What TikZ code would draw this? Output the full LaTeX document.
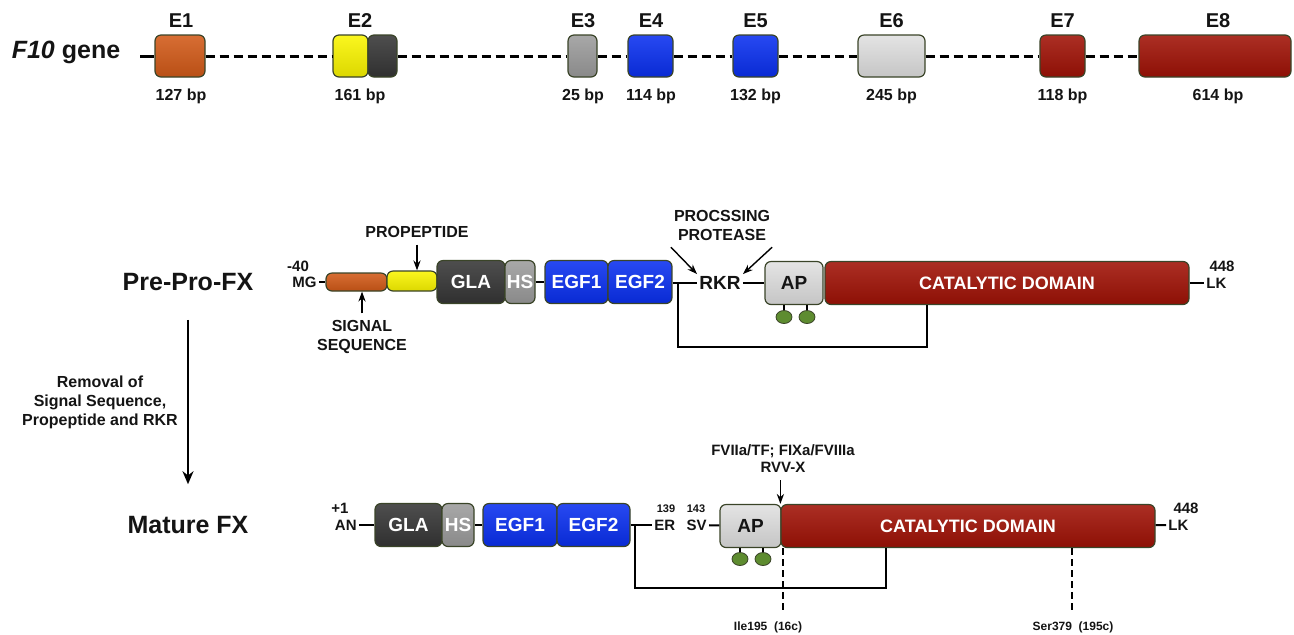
\documentclass[tikz,border=0pt]{standalone}
\usepackage{fontspec}
\setmainfont{Liberation Sans}
\usepackage{tikz}
\usetikzlibrary{arrows.meta, calc, positioning, shapes.geometric}
\definecolor{ExonOrange}{HTML}{D25A18}
\definecolor{ExonYellow}{HTML}{FAF500}
\definecolor{GlaDark}{HTML}{363636}
\definecolor{HSGray}{HTML}{9C9C9C}
\definecolor{EGFBlue}{HTML}{0A30F0}
\definecolor{APGray}{HTML}{E0E0E0}
\definecolor{CatRed}{HTML}{A01206}
\definecolor{DotGreen}{HTML}{5E8C30}
\definecolor{BoxEdge}{HTML}{3A4428}
\definecolor{TextBlack}{HTML}{141414}

\begin{document}
\begin{tikzpicture}[x=0.5pt, y=-0.5pt, >={Stealth[length=5pt,width=3.6pt]},
    every node/.style={font=\bfseries\fontsize{8}{9.5}\selectfont, text=TextBlack},
    dom/.style={draw=BoxEdge, top color=#1!88!white, middle color=#1, bottom color=#1!88!black,
        line width=0.6pt, rounded corners=3pt,
        inner sep=0pt, minimum height=21.5pt, text=white,
        font=\bfseries\fontsize{9.5}{11}\selectfont},
    exon/.style={dom=#1, minimum height=21pt},
    headlbl/.style={font=\bfseries\fontsize{12.5}{14}\selectfont},
    endlbl/.style={font=\bfseries\fontsize{7.5}{8}\selectfont, inner sep=1pt},
    numlbl/.style={font=\bfseries\fontsize{5.5}{6}\selectfont, inner sep=1pt},
    sitelbl/.style={font=\bfseries\fontsize{6}{7}\selectfont},
    gdot/.style={ellipse, draw=BoxEdge, fill=DotGreen, minimum width=8pt, minimum height=6.5pt, inner sep=0pt},
    link/.style={line width=1pt},
    intron/.style={line width=1.5pt, dash pattern=on 4.5pt off 2.5pt},
    cleft/.style={line width=1pt, dash pattern=on 3.5pt off 2pt}]

    \useasboundingbox (0,0) rectangle (1294,634);

    % F10 gene
    \node[headlbl] (gene) at (66,52) {\textit{F10} gene};
    \node[exon=ExonOrange, minimum width=25pt] (e1) at (180,56) {};
    \node[exon=ExonYellow, minimum width=17.5pt] (e2a) at (350.5,56) {};
    \node[exon=GlaDark, minimum width=14.5pt] (e2b) at (382.5,56) {};
    \node[exon=HSGray, minimum width=14.5pt] (e3) at (582.5,56) {};
    \node[exon=EGFBlue, minimum width=22.5pt] (e4) at (650.5,56) {};
    \node[exon=EGFBlue, minimum width=22.5pt] (e5) at (755.5,56) {};
    \node[exon=APGray, minimum width=33.5pt] (e6) at (891.5,56) {};
    \node[exon=CatRed, minimum width=22.5pt] (e7) at (1062.5,56) {};
    \node[exon=CatRed, minimum width=76pt] (e8) at (1215,56) {};
    \coordinate (gstart) at (140,56);
    \draw[intron, solid] (gstart) -- (e1);
    \foreach \a/\b in {e1/e2a, e2b/e3, e3/e4, e4/e5, e5/e6, e6/e7, e7/e8}
        \draw[intron] (\a) -- (\b);
    \foreach \x/\t/\bp in {181/E1/127, 360/E2/161, 583/E3/25, 651/E4/114,
                           755.5/E5/132, 891.5/E6/245, 1062.5/E7/118, 1218/E8/614} {
        \node[font=\bfseries\fontsize{10}{11}\selectfont] (lbl\t) at (\x,21) {\t};
        \node (bp\t) at (\x,96) {\bp~bp};
    }

    % Pre-Pro-FX
    \node[headlbl] (prepro) at (188,282) {Pre-Pro-FX};
    \node[endlbl, anchor=east] (mg) at (319,282) {MG};
    \node[endlbl] (n40) at (298,266) {-40};
    \node[dom=ExonOrange, minimum width=30.5pt, minimum height=9pt] (sig) at (356.5,282) {};
    \node[dom=ExonYellow, minimum width=25pt, minimum height=10pt] (pro) at (412,281) {};
    \node[dom=GlaDark, minimum width=34pt] (gla) at (471,282) {GLA};
    \node[dom=HSGray, minimum width=15pt] (hs) at (520,282) {HS};
    \node[dom=EGFBlue, minimum width=31.5pt] (egfa) at (576.5,282) {EGF1};
    \node[dom=EGFBlue, minimum width=32pt] (egfb) at (640,282) {EGF2};
    \node[font=\bfseries\fontsize{9.5}{11}\selectfont, inner sep=1pt] (rkr) at (720,283) {RKR};
    \node[dom=APGray, text=TextBlack, minimum width=29pt] (ap) at (794,283) {AP};
    \node[dom=CatRed, minimum width=182pt, font=\bfseries\fontsize{9}{11}\selectfont] (cat) at (1007,283) {CATALYTIC DOMAIN};
    \node[endlbl, anchor=west] (lk) at (1204,283) {LK};
    \node[endlbl] (n448) at (1222,266) {448};
    \draw[link] (mg) -- (sig);
    \draw[link] (hs) -- (egfa);
    \draw[link] (egfb.east |- rkr) -- (rkr);
    \draw[link] (rkr) -- (ap);
    \draw[link] (cat) -- (lk);

    % Gla sites on AP
    \node[gdot] (d1) at (784,317) {};
    \node[gdot] (d2) at (807,317) {};
    \draw[link] (d1) -- (d1 |- ap.south);
    \draw[link] (d2) -- (d2 |- ap.south);

    % Disulfide bond
    \coordinate (bl) at (678,283);
    \coordinate (br) at (927,0);
    \draw[link] (bl) -- ++(0,64) -| (br |- cat.south);

    % Labels with arrows
    \node (proplbl) at (417,232) {PROPEPTIDE};
    \draw[->, line width=0.7pt] (proplbl.south) -- (proplbl.south |- pro.north);
    \node[align=center] (siglbl) at (362,337) {SIGNAL\\SEQUENCE};
    \draw[->, line width=0.7pt] (siglbl.north) -- (siglbl.north |- sig.south);
    \node[align=center] (protease) at (722,225) {PROCSSING\\PROTEASE};
    \draw[->, line width=0.7pt] ($(protease.south west)+(4,0)$) -- (rkr.north west);
    \draw[->, line width=0.7pt] ($(protease.south east)+(-5,0)$) -- (rkr.north east);

    % Processing step
    \node[headlbl] (mature) at (188,525) {Mature FX};
    \draw[-{Stealth[length=6.5pt,width=5.5pt]}, line width=1.1pt, shorten <=11pt, shorten >=12.5pt] (prepro) -- (mature);
    \node[align=center] (removal) at (100,402) {Removal of\\Signal Sequence,\\Propeptide and RKR};

    % Mature FX
    \node[endlbl, anchor=east] (an) at (359,525) {AN};
    \node[endlbl] (n1) at (340,508) {+1};
    \node[dom=GlaDark, minimum width=33.5pt] (glab) at (408.5,525) {GLA};
    \node[dom=HSGray, minimum width=16pt] (hsb) at (458,525) {HS};
    \node[dom=EGFBlue, minimum width=37pt] (egfc) at (520,525) {EGF1};
    \node[dom=EGFBlue, minimum width=36.5pt] (egfd) at (593.5,525) {EGF2};
    \node[endlbl, anchor=west] (er) at (652,525) {ER};
    \node[numlbl] (n139) at (666,509) {139};
    \node[endlbl, anchor=east] (sv) at (709,525) {SV};
    \node[numlbl] (n143) at (696,509) {143};
    \node[dom=APGray, text=TextBlack, minimum width=30.5pt] (apb) at (750.5,526) {AP};
    \node[dom=CatRed, minimum width=187pt, font=\bfseries\fontsize{9}{11}\selectfont] (catb) at (968,526) {CATALYTIC DOMAIN};
    \node[endlbl, anchor=west] (lkb) at (1166,525) {LK};
    \node[endlbl] (n448b) at (1186,508) {448};
    \draw[link] (an) -- (glab);
    \draw[link] (hsb) -- (egfc);
    \draw[link] (egfd) -- (er);
    \draw[link] (sv) -- (apb);
    \draw[link] (catb) -- (lkb);

    \node[gdot] (d3) at (740,559) {};
    \node[gdot] (d4) at (763,559) {};
    \draw[link] (d3) -- (d3 |- apb.south);
    \draw[link] (d4) -- (d4 |- apb.south);

    \coordinate (bl2) at (635,525);
    \coordinate (br2) at (886,0);
    \draw[link] (bl2) -- ++(0,63) -| (br2 |- catb.south);

    % Activation cleavage
    \node[align=center, font=\bfseries\fontsize{7.5}{8.5}\selectfont] (cleave) at (783,459) {FVIIa/TF; FIXa/FVIIIa\\RVV-X};
    \draw[->, line width=0.7pt] (cleave.south -| catb.north west) -- (catb.north west);
    \draw[cleft] ($(catb.south west)+(3,0)$) -- ++(0,64);
    \draw[cleft] ($(catb.south west)+(292,0)$) -- ++(0,64);
    \node[sitelbl] (ile) at (768,627) {Ile195\ \ (16c)};
    \node[sitelbl] (ser) at (1073,627) {Ser379\ \ (195c)};
\end{tikzpicture}
\end{document}
